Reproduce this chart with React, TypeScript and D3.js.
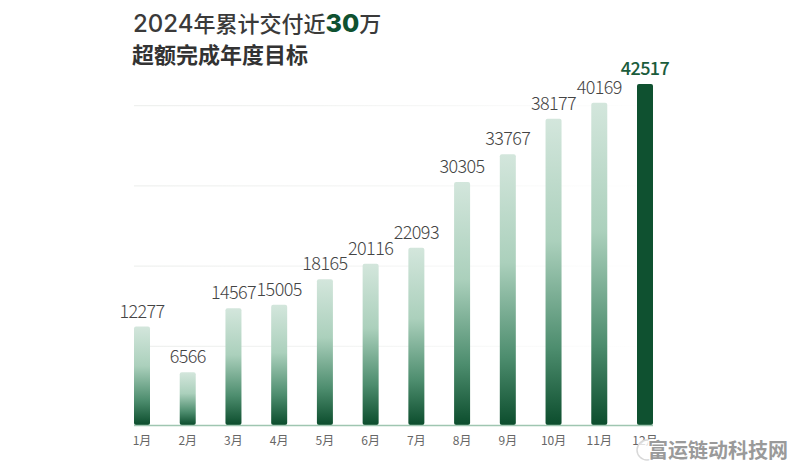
import React, { useEffect, useRef } from "react";
import * as d3 from "d3";

const months = ["1月", "2月", "3月", "4月", "5月", "6月", "7月", "8月", "9月", "10月", "11月", "12月"];
const deliveries = [12277, 6566, 14567, 15005, 18165, 20116, 22093, 30305, 33767, 38177, 40169, 42517];
const gridTicks = [10000, 20000, 30000, 40000];

const W = 796;
const H = 467;
const font = "'Noto Sans CJK SC', 'Noto Sans', sans-serif";
const dark = "#0f5130";

const App: React.FC = () => {
  const svgRef = useRef<SVGSVGElement | null>(null);

  useEffect(() => {
    if (!svgRef.current) return;
    const svg = d3.select(svgRef.current);
    svg.selectAll("*").remove();

    const x = d3.scalePoint<string>().domain(months).range([142, 645]);
    const y = d3.scaleLinear().domain([0, 42517]).range([425, 84]);
    const barW = 16;

    const defs = svg.append("defs");
    const barGrad = defs.append("linearGradient").attr("id", "barGrad")
      .attr("x1", 0).attr("y1", 0).attr("x2", 0).attr("y2", 1);
    barGrad.append("stop").attr("offset", "0%").attr("stop-color", "#d3e6dc");
    barGrad.append("stop").attr("offset", "40%").attr("stop-color", "#abd0bc");
    barGrad.append("stop").attr("offset", "75%").attr("stop-color", "#4d8d6e");
    barGrad.append("stop").attr("offset", "100%").attr("stop-color", "#0c4d2d");

    const gridGrad = defs.append("linearGradient").attr("id", "gridGrad")
      .attr("gradientUnits", "userSpaceOnUse")
      .attr("x1", 134).attr("y1", 0).attr("x2", 660).attr("y2", 0);
    gridGrad.append("stop").attr("offset", "0%").attr("stop-color", "#ebedeb");
    gridGrad.append("stop").attr("offset", "50%").attr("stop-color", "#f3f4f3");
    gridGrad.append("stop").attr("offset", "100%").attr("stop-color", "#ffffff");

    // faint grid lines
    svg.append("g").selectAll("rect").data(gridTicks).enter().append("rect")
      .attr("x", 134).attr("width", 526)
      .attr("y", (d) => y(d) + 1).attr("height", 1)
      .attr("fill", "url(#gridGrad)");

    // bars
    svg.append("g").selectAll("rect").data(deliveries).enter().append("rect")
      .attr("x", (_, i) => x(months[i])! - barW / 2)
      .attr("y", (d) => y(d))
      .attr("width", barW)
      .attr("height", (d) => y(0) - y(d))
      .attr("rx", 2)
      .attr("fill", (_, i) => (i === months.length - 1 ? dark : "url(#barGrad)"));

    // baseline
    svg.append("line")
      .attr("x1", 134).attr("x2", 653)
      .attr("y1", y(0) + 0.5).attr("y2", y(0) + 0.5)
      .attr("stroke", "#9fc6b1").attr("stroke-width", 1.5);

    // value labels
    svg.append("g").selectAll("text").data(deliveries).enter().append("text")
      .attr("x", (_, i) => x(months[i])!)
      .attr("y", (d) => y(d) - 9)
      .attr("text-anchor", "middle")
      .style("font-family", font)
      .style("font-size", "18px")
      .style("letter-spacing", "-0.6px")
      .style("font-weight", (_, i) => (i === months.length - 1 ? 500 : 300))
      .style("fill", (_, i) => (i === months.length - 1 ? "#1a5c3c" : "#444"))
      .text((d) => d);

    // month labels
    svg.append("g").selectAll("text").data(months).enter().append("text")
      .attr("x", (d) => x(d)!)
      .attr("y", 445)
      .attr("text-anchor", "middle")
      .style("font-family", font)
      .style("font-size", "12px")
      .style("fill", "#666")
      .text((d) => d);

    // title
    const t1 = svg.append("text").attr("x", 133).attr("y", 32)
      .style("font-family", font).style("font-size", "22px").style("font-weight", 500).style("fill", "#3a3a3a");
    t1.append("tspan").text("2024").style("font-family", "Inter, sans-serif").style("font-size", "24px");
    t1.append("tspan").text("年累计交付近");
    t1.append("tspan").text("30").style("fill", dark).style("font-family", "Inter, sans-serif").style("font-weight", 800).style("font-size", "25px");
    t1.append("tspan").text("万");
    svg.append("text").attr("x", 132).attr("y", 63)
      .style("font-family", font).style("font-size", "22px").style("font-weight", 700).style("fill", "#333")
      .text("超额完成年度目标");

    // watermark
    const wm = svg.append("g");
    wm.append("circle").attr("cx", 647).attr("cy", 450).attr("r", 10)
      .attr("fill", "#fff").attr("fill-opacity", 0.8).attr("stroke", "#d8d8d8").attr("stroke-width", 1.5);
    wm.append("text").attr("x", 648).attr("y", 452.5).attr("dominant-baseline", "middle")
      .style("font-family", font).style("font-size", "20px").style("font-weight", 700)
      .style("fill", "#9a9a9a").style("stroke", "#fff").style("stroke-width", 2.5).style("paint-order", "stroke")
      .text("富运链动科技网");
  }, []);

  return (
    <svg
      ref={svgRef}
      width={W}
      height={H}
      style={{ position: "absolute", left: 0, top: 0, background: "#fff" }}
    />
  );
};

export default App;
